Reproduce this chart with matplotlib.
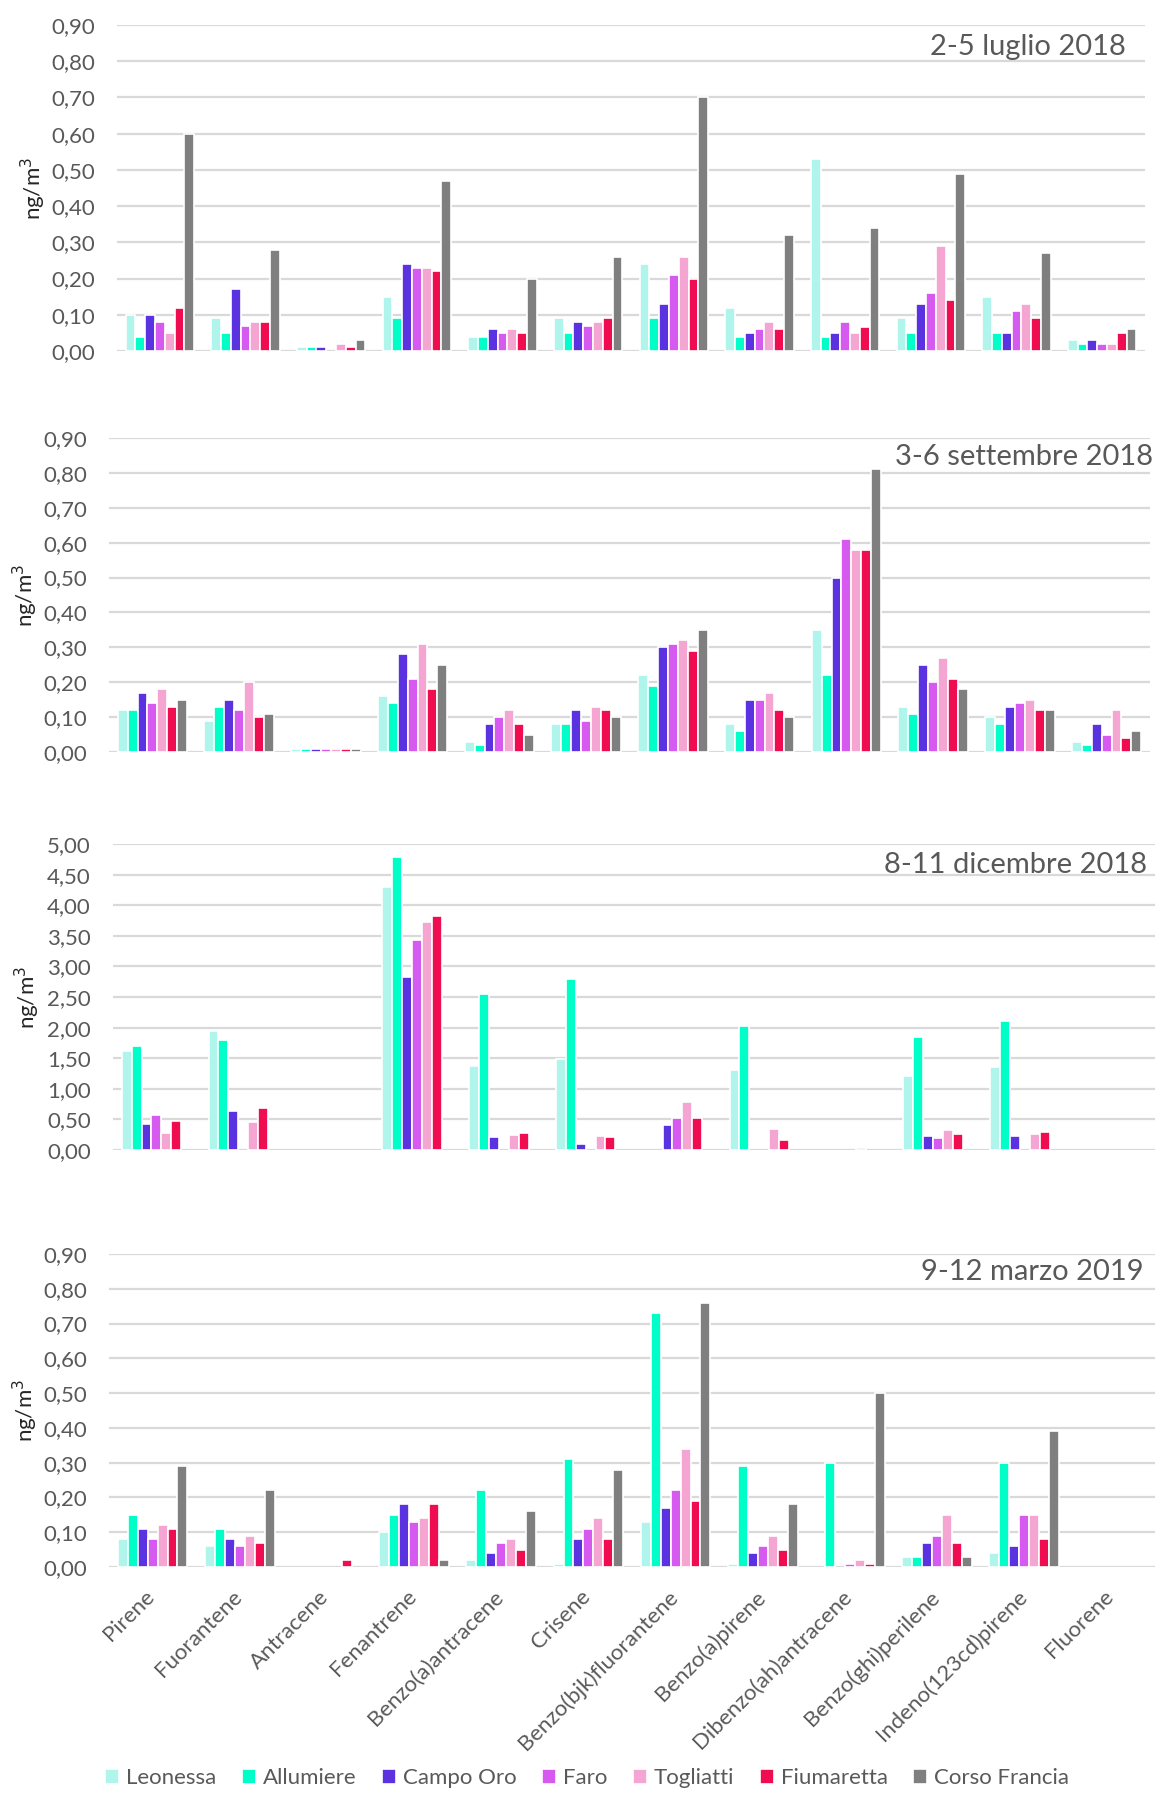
import numpy as np
import matplotlib
matplotlib.use('Agg')
import matplotlib.pyplot as plt
import matplotlib.transforms as mtransforms

plt.rcParams['font.family'] = ['Lato', 'DejaVu Sans']

## Categories and stations
compounds = ['Pirene', 'Fuorantene', 'Antracene', 'Fenantrene', 'Benzo(a)antracene',
             'Crisene', 'Benzo(bjk)fluorantene', 'Benzo(a)pirene', 'Dibenzo(ah)antracene',
             'Benzo(ghi)perilene', 'Indeno(123cd)pirene', 'Fluorene']
stations = ['Leonessa', 'Allumiere', 'Campo Oro', 'Faro', 'Togliatti', 'Fiumaretta', 'Corso Francia']
colors = ['#AFF5EC', '#00FFC8', '#5B32E0', '#D75AF0', '#F5A5D2', '#F00C50', '#7F7F7F']

## 2-5 luglio 2018 (rows = stations, cols = compounds)
luglio = [
    [0.10, 0.09, 0.01, 0.15, 0.04, 0.09, 0.24, 0.12, 0.53, 0.09, 0.15, 0.03],
    [0.04, 0.05, 0.01, 0.09, 0.04, 0.05, 0.09, 0.04, 0.04, 0.05, 0.05, 0.02],
    [0.10, 0.17, 0.01, 0.24, 0.06, 0.08, 0.13, 0.05, 0.05, 0.13, 0.05, 0.03],
    [0.08, 0.07, 0.00, 0.23, 0.05, 0.07, 0.21, 0.06, 0.08, 0.16, 0.11, 0.02],
    [0.05, 0.08, 0.02, 0.23, 0.06, 0.08, 0.26, 0.08, 0.05, 0.29, 0.13, 0.02],
    [0.12, 0.08, 0.01, 0.22, 0.05, 0.09, 0.20, 0.06, 0.065, 0.14, 0.09, 0.05],
    [0.60, 0.28, 0.03, 0.47, 0.20, 0.26, 0.70, 0.32, 0.34, 0.49, 0.27, 0.06],
]

## 3-6 settembre 2018
settembre = [
    [0.12, 0.09, 0.01, 0.16, 0.03, 0.08, 0.22, 0.08, 0.35, 0.13, 0.10, 0.03],
    [0.12, 0.13, 0.01, 0.14, 0.02, 0.08, 0.19, 0.06, 0.22, 0.11, 0.08, 0.02],
    [0.17, 0.15, 0.01, 0.28, 0.08, 0.12, 0.30, 0.15, 0.50, 0.25, 0.13, 0.08],
    [0.14, 0.12, 0.01, 0.21, 0.10, 0.09, 0.31, 0.15, 0.61, 0.20, 0.14, 0.05],
    [0.18, 0.20, 0.01, 0.31, 0.12, 0.13, 0.32, 0.17, 0.58, 0.27, 0.15, 0.12],
    [0.13, 0.10, 0.01, 0.18, 0.08, 0.12, 0.29, 0.12, 0.58, 0.21, 0.12, 0.04],
    [0.15, 0.11, 0.01, 0.25, 0.05, 0.10, 0.35, 0.10, 0.81, 0.18, 0.12, 0.06],
]

## 8-11 dicembre 2018
dicembre = [
    [1.62, 1.94, 0.00, 4.29, 1.38, 1.49, 0.00, 1.31, 0.00, 1.21, 1.36, 0.00],
    [1.70, 1.79, 0.00, 4.79, 2.55, 2.80, 0.00, 2.02, 0.00, 1.84, 2.10, 0.00],
    [0.42, 0.63, 0.00, 2.82, 0.21, 0.10, 0.41, 0.00, 0.00, 0.23, 0.23, 0.00],
    [0.58, 0.00, 0.00, 3.43, 0.00, 0.00, 0.53, 0.00, 0.00, 0.20, 0.00, 0.00],
    [0.28, 0.46, 0.00, 3.73, 0.25, 0.23, 0.78, 0.35, 0.04, 0.32, 0.26, 0.00],
    [0.47, 0.68, 0.00, 3.82, 0.28, 0.22, 0.52, 0.17, 0.00, 0.26, 0.30, 0.00],
    [0.00, 0.00, 0.00, 0.00, 0.00, 0.00, 0.00, 0.00, 0.00, 0.00, 0.00, 0.00],
]

## 9-12 marzo 2019
marzo = [
    [0.08, 0.06, 0.00, 0.10, 0.02, 0.01, 0.13, 0.01, 0.00, 0.03, 0.04, 0.00],
    [0.15, 0.11, 0.00, 0.15, 0.22, 0.31, 0.73, 0.29, 0.30, 0.03, 0.30, 0.00],
    [0.11, 0.08, 0.00, 0.18, 0.04, 0.08, 0.17, 0.04, 0.00, 0.07, 0.06, 0.00],
    [0.08, 0.06, 0.00, 0.13, 0.07, 0.11, 0.22, 0.06, 0.01, 0.09, 0.15, 0.00],
    [0.12, 0.09, 0.00, 0.14, 0.08, 0.14, 0.34, 0.09, 0.02, 0.15, 0.15, 0.00],
    [0.11, 0.07, 0.02, 0.18, 0.05, 0.08, 0.19, 0.05, 0.01, 0.07, 0.08, 0.00],
    [0.29, 0.22, 0.00, 0.02, 0.16, 0.28, 0.76, 0.18, 0.50, 0.03, 0.39, 0.00],
]

panels = [
    ('2-5 luglio 2018', luglio, 0.9, 0.1),
    ('3-6 settembre 2018', settembre, 0.9, 0.1),
    ('8-11 dicembre 2018', dicembre, 5.0, 0.5),
    ('9-12 marzo 2019', marzo, 0.9, 0.1),
]

W, H = 1160, 1798
# axes boxes in pixels: left, top, right, bottom
boxes = [(117, 25, 1145, 351), (109, 438, 1150, 752), (113, 844, 1155, 1150), (109, 1254, 1155, 1567)]
# title right end / vertical centre in pixels
title_pos = [(1126, 47), (1153, 457), (1147, 865), (1144, 1272)]
ylab_x = [33, 25, 27, 25]

txt = '#595959'
grid = '#D9D9D9'

fig = plt.figure(figsize=(W / 100, H / 100), dpi=100)

x = np.arange(len(compounds))
pitch = 0.80 / len(stations)

for i, (title, data, ymax, step) in enumerate(panels):
    l, t, r, b = boxes[i]
    ax = fig.add_axes([l / W, 1 - b / H, (r - l) / W, (b - t) / H])
    for j, st in enumerate(stations):
        vals = np.array(data[j], dtype=float)
        vals = np.where(vals > 0, vals, np.nan)
        off = (j - (len(stations) - 1) / 2) * pitch
        ax.bar(x + off, vals, width=pitch, color=colors[j], edgecolor='white',
               linewidth=1.2, label=st, zorder=3)
    ax.set_xlim(-0.5, len(compounds) - 0.5)
    ax.set_ylim(0, ymax)
    ticks = np.arange(0, ymax + step / 2, step)
    ax.set_yticks(ticks)
    ax.set_yticklabels([f'{v:.2f}'.replace('.', ',') for v in ticks], fontsize=16, color=txt)
    ax.yaxis.grid(True, color=grid, linewidth=1.6, zorder=0)
    ax.set_axisbelow(True)
    for s in ax.spines.values():
        s.set_visible(False)
    ax.tick_params(axis='y', length=0, pad=16)
    ax.tick_params(axis='x', length=0)
    if i == 3:
        ax.set_xticks(x)
        ax.set_xticklabels(compounds, rotation=45, ha='right', va='top',
                           rotation_mode='anchor', fontsize=16, color=txt)
        ax.tick_params(axis='x', pad=14)
        shift = mtransforms.ScaledTranslation(-0.08, 0, fig.dpi_scale_trans)
        for lab in ax.get_xticklabels():
            lab.set_transform(lab.get_transform() + shift)
        handles, labels = ax.get_legend_handles_labels()
    else:
        ax.set_xticks([])
    fig.text(title_pos[i][0] / W, 1 - title_pos[i][1] / H, title,
             ha='right', va='center', fontsize=21, color=txt)
    fig.text(ylab_x[i] / W, 1 - (t + b) / 2 / H, 'ng/m$^3$', rotation=90,
             ha='center', va='center', fontsize=16, color='#262626')

fig.legend(handles, labels, loc='center', bbox_to_anchor=(587 / W, 1 - 1778 / H), ncol=7,
           frameon=False, fontsize=16, handlelength=0.65, handleheight=0.65,
           handletextpad=0.3, columnspacing=1.14, labelcolor=txt)

fig.savefig('out.png', dpi=100)
